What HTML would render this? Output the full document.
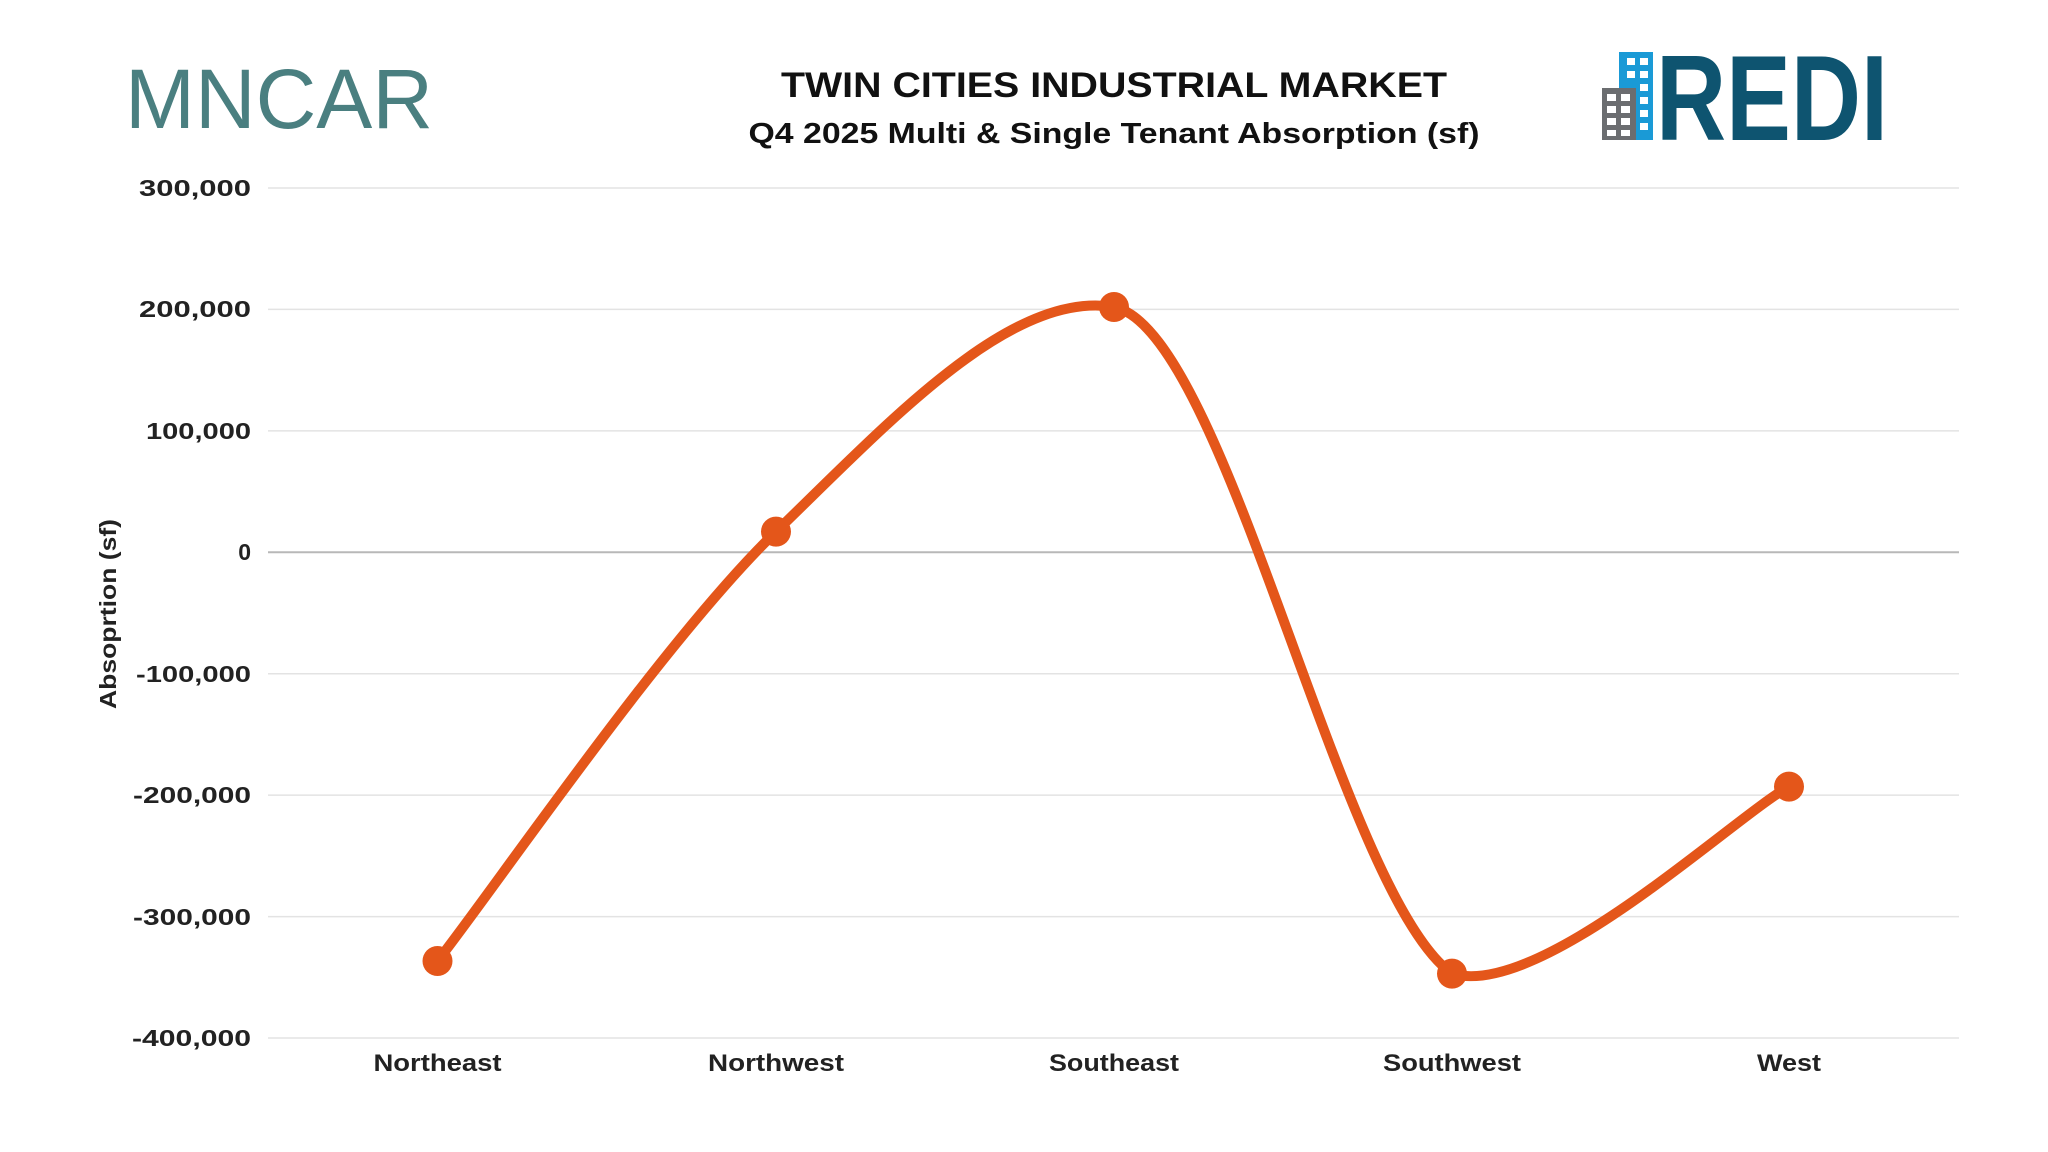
<!DOCTYPE html>
<html><head><meta charset="utf-8"><style>
body{margin:0;background:#fff;}
svg{display:block;font-family:"Liberation Sans",sans-serif;}
</style></head><body>
<svg width="2048" height="1152" viewBox="0 0 2048 1152">
<rect width="2048" height="1152" fill="#fff"/>
<g stroke="#e3e3e3" stroke-width="1.5">
<line x1="268" x2="1959" y1="188" y2="188"/>
<line x1="268" x2="1959" y1="309.4" y2="309.4"/>
<line x1="268" x2="1959" y1="430.9" y2="430.9"/>
<line x1="268" x2="1959" y1="673.7" y2="673.7"/>
<line x1="268" x2="1959" y1="795.1" y2="795.1"/>
<line x1="268" x2="1959" y1="916.6" y2="916.6"/>
<line x1="268" x2="1959" y1="1038" y2="1038"/>
</g>
<line x1="268" x2="1959" y1="552.3" y2="552.3" stroke="#b8b8b8" stroke-width="2"/>
<g font-size="23" font-weight="bold" fill="#222" text-anchor="end">
<text x="251" y="196" textLength="112" lengthAdjust="spacingAndGlyphs">300,000</text>
<text x="251" y="317" textLength="112" lengthAdjust="spacingAndGlyphs">200,000</text>
<text x="251" y="439" textLength="105" lengthAdjust="spacingAndGlyphs">100,000</text>
<text x="251" y="560">0</text>
<text x="251" y="682" textLength="115" lengthAdjust="spacingAndGlyphs">-100,000</text>
<text x="251" y="803" textLength="118" lengthAdjust="spacingAndGlyphs">-200,000</text>
<text x="251" y="925" textLength="118" lengthAdjust="spacingAndGlyphs">-300,000</text>
<text x="251" y="1046" textLength="119" lengthAdjust="spacingAndGlyphs">-400,000</text>
</g>
<g font-size="24" font-weight="bold" fill="#222" text-anchor="middle">
<text x="437.5" y="1071" textLength="128" lengthAdjust="spacingAndGlyphs">Northeast</text>
<text x="776" y="1071" textLength="136" lengthAdjust="spacingAndGlyphs">Northwest</text>
<text x="1114" y="1071" textLength="130" lengthAdjust="spacingAndGlyphs">Southeast</text>
<text x="1452" y="1071" textLength="138" lengthAdjust="spacingAndGlyphs">Southwest</text>
<text x="1789" y="1071" textLength="64" lengthAdjust="spacingAndGlyphs">West</text>
</g>
<text transform="translate(116,614) rotate(-90)" font-size="23" font-weight="bold" fill="#222" text-anchor="middle" textLength="190" lengthAdjust="spacingAndGlyphs">Absoprtion (sf)</text>
<text x="1114" y="97" font-size="35" font-weight="bold" fill="#111" text-anchor="middle" textLength="666" lengthAdjust="spacingAndGlyphs">TWIN CITIES INDUSTRIAL MARKET</text>
<text x="1114" y="143" font-size="29" font-weight="bold" fill="#111" text-anchor="middle" textLength="731" lengthAdjust="spacingAndGlyphs">Q4 2025 Multi &amp; Single Tenant Absorption (sf)</text>
<text x="125" y="128" font-size="84" fill="#4a7f80" textLength="308" lengthAdjust="spacingAndGlyphs">MNCAR</text>
<rect x="1619" y="52" width="34" height="88" fill="#1a9ad6"/>
<g fill="#fff">
<rect x="1627" y="58" width="8" height="7"/><rect x="1640" y="58" width="8" height="7"/>
<rect x="1627" y="71" width="8" height="7"/><rect x="1640" y="71" width="8" height="7"/>
<rect x="1640" y="84" width="8" height="7"/><rect x="1640" y="97" width="8" height="7"/>
<rect x="1640" y="110" width="8" height="7"/><rect x="1640" y="123" width="8" height="7"/>
</g>
<rect x="1602" y="88" width="34" height="52" fill="#6b6d70"/>
<g fill="#fff">
<rect x="1607" y="94" width="9" height="7"/><rect x="1621" y="94" width="9" height="7"/>
<rect x="1607" y="106" width="9" height="7"/><rect x="1621" y="106" width="9" height="7"/>
<rect x="1607" y="118" width="9" height="7"/><rect x="1621" y="118" width="9" height="7"/>
<rect x="1607" y="130" width="9" height="6"/><rect x="1621" y="130" width="9" height="6"/>
</g>
<text x="1656" y="140" font-size="122" font-weight="bold" fill="#0e5470" textLength="232" lengthAdjust="spacingAndGlyphs">REDI</text>
<path d="M437.5,961 C493.9,889.4 663.25,640.6 776,531.6 C888.75,422.6 1010,290 1114,307 C1226.7,330 1339.5,893.6 1452,973.6 C1540,1000 1732.8,817.8 1789,786.6" fill="none" stroke="#e4561a" stroke-width="10" stroke-linecap="round"/>
<g fill="#e4561a">
<circle cx="437.5" cy="961" r="15"/>
<circle cx="776" cy="531.6" r="15"/>
<circle cx="1114" cy="307" r="15"/>
<circle cx="1452" cy="973.6" r="15"/>
<circle cx="1789" cy="786.6" r="15"/>
</g>
</svg>
</body></html>
